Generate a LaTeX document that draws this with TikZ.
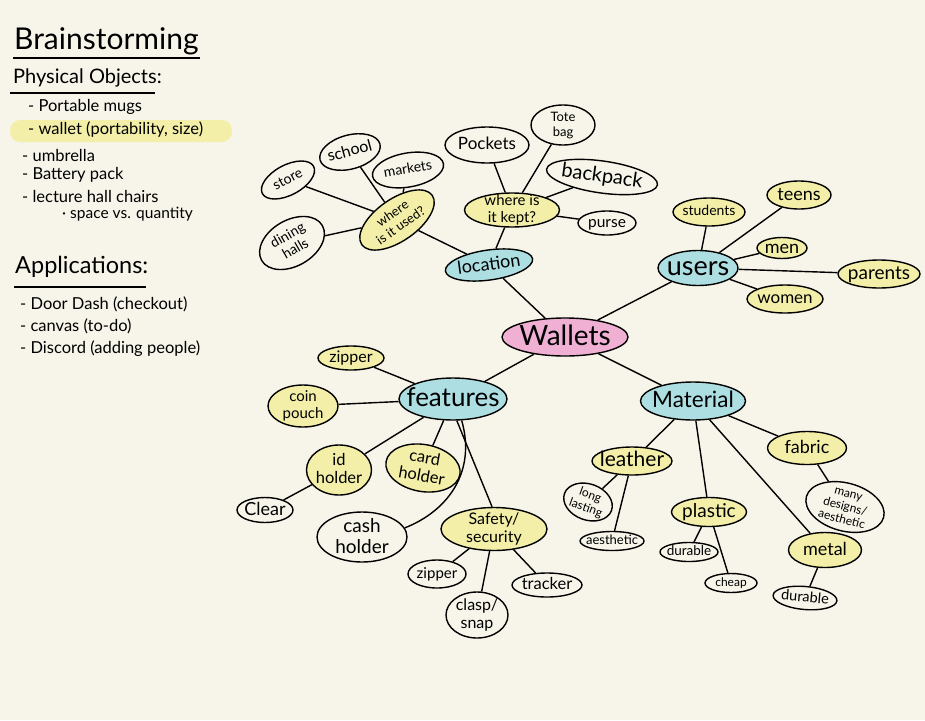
\documentclass[tikz,border=0pt]{standalone}
\usepackage{fontspec}
\setmainfont{Lato}
\usetikzlibrary{shapes.geometric}
\definecolor{paper}{RGB}{247,245,234}
\definecolor{hy}{RGB}{243,239,168}
\definecolor{hb}{RGB}{172,222,226}
\definecolor{hp}{RGB}{240,176,212}
\newcommand{\fs}[1]{\fontsize{#1}{\fpeval{1.12*#1}}\selectfont}
\newcommand{\T}[1]{\raisebox{-0.3em}[0pt][0pt]{\makebox[0pt]{\begin{tabular}{@{}c@{}}#1\end{tabular}}}}
\begin{document}
\begin{tikzpicture}[x=1pt,y=-1pt,
  bub/.style={ellipse,draw,line width=1.4pt,inner sep=0pt,font=\fs{11}},
  sz/.style 2 args={minimum width=#1pt,minimum height=#2pt},
  yel/.style={fill=hy}, blu/.style={fill=hb}, pnk/.style={fill=hp},
  link/.style={line width=1.4pt},
  lst/.style={anchor=west,inner sep=0pt,font=\fs{16.5}},
  uline/.style={line width=1.6pt}]
\fill[paper] (0,0) rectangle (925,720);
\useasboundingbox (0,0) rectangle (925,720);

% ---------- left notes ----------
\node[anchor=west,inner sep=0pt,font=\fs{30}] (t1) at (14,41) {Brainstorming};
\draw[uline] (13,58) -- (200,58);
\node[anchor=west,inner sep=0pt,font=\fs{20}] (t2) at (13,78) {Physical Objects:};
\draw[uline] (10,93) -- (155,93);
\node[lst] (p1) at (28,107) {- Portable mugs};
\fill[hy,rounded corners=10pt] (10,120) rectangle (232,142);
\node[lst] (p2) at (28,130) {- wallet (portability, size)};
\node[lst] (p3) at (22,155) {- umbrella};
\node[lst] (p4) at (22,175) {- Battery pack};
\node[lst] (p5) at (22,196) {- lecture hall chairs};
\node[lst,font=\fs{15.5}] (p6) at (62,214) {· space vs. quantity};
\node[anchor=west,inner sep=0pt,font=\fs{23.5}] (t3) at (15,267) {Applications:};
\draw[uline] (14,287) -- (146,287);
\node[lst] (a1) at (20,304) {- Door Dash (checkout)};
\node[lst] (a2) at (20,326) {- canvas (to-do)};
\node[lst] (a3) at (20,349) {- Discord (adding people)};

% ---------- main nodes ----------
\node[bub,pnk,sz={126}{38},font=\fs{28}] (wal) at (565,337) {\T{Wallets}};
\node[bub,blu,sz={88}{30},rotate=8,font=\fs{18}] (loc) at (489,265) {\T{location}};
\node[bub,blu,sz={80}{35},font=\fs{27}] (usr) at (698,268) {\T{users}};
\node[bub,blu,sz={108}{42},font=\fs{26}] (fea) at (453,399) {\T{features}};
\node[bub,blu,sz={105}{38},font=\fs{22.5}] (mat) at (693,401) {\T{Material}};

% ---------- location subtree ----------
\node[bub,yel,sz={86}{42},rotate=35,font=\fs{13}] (used) at (397,220) {\T{where\\is it used?}};
\node[bub,yel,sz={95}{34},font=\fs{15}] (kept) at (512,210) {\T{where is\\it kept?}};
\node[bub,sz={58}{30},rotate=28,font=\fs{14}] (store) at (288,180) {\T{store}};
\node[bub,sz={62}{34},rotate=15,font=\fs{16}] (school) at (350,152) {\T{school}};
\node[bub,sz={72}{34},rotate=10,font=\fs{14}] (mark) at (408,170) {\T{markets}};
\node[bub,sz={70}{46},rotate=30,font=\fs{14}] (dine) at (292,243) {\T{dining\\halls}};
\node[bub,sz={84}{36},font=\fs{17}] (pock) at (487,145) {\T{Pockets}};
\node[bub,sz={64}{40},font=\fs{13}] (tote) at (563,125) {\T{Tote\\bag}};
\node[bub,sz={112}{32},rotate=-8,font=\fs{20}] (back) at (602,177) {\T{backpack}};
\node[bub,sz={58}{24},font=\fs{15.5}] (purse) at (607,223) {\T{purse}};

% ---------- users subtree ----------
\node[bub,yel,sz={72}{28},font=\fs{14}] (stud) at (709,212) {\T{students}};
\node[bub,yel,sz={64}{28},font=\fs{18}] (teen) at (799,195) {\T{teens}};
\node[bub,yel,sz={50}{21},font=\fs{18}] (men) at (782,248) {\T{men}};
\node[bub,yel,sz={82}{28},font=\fs{19}] (par) at (879,274) {\T{parents}};
\node[bub,yel,sz={76}{28},font=\fs{17}] (wom) at (785,299) {\T{women}};

% ---------- features subtree ----------
\node[bub,yel,sz={66}{24},font=\fs{16}] (zip1) at (351,358) {\T{zipper}};
\node[bub,yel,sz={70}{42},font=\fs{15}] (coin) at (303,406) {\T{coin\\pouch}};
\node[bub,yel,sz={65}{50},font=\fs{16.5}] (idh) at (339,470) {\T{id\\holder}};
\node[bub,yel,sz={75}{47},rotate=-10,font=\fs{16.5}] (card) at (423,468) {\T{card\\holder}};
\node[bub,sz={56}{25},font=\fs{18}] (clear) at (265,510) {\T{Clear}};
\node[bub,sz={90}{50},font=\fs{19}] (cash) at (362,537) {\T{cash\\holder}};
\node[bub,yel,sz={106}{43},font=\fs{16}] (safe) at (494,529) {\T{Safety/\\security}};
\node[bub,sz={58}{28},font=\fs{15}] (zip2) at (437,574) {\T{zipper}};
\node[bub,sz={62}{46},font=\fs{16}] (clasp) at (477,615) {\T{clasp/\\snap}};
\node[bub,sz={70}{24},font=\fs{16.5}] (track) at (547,585) {\T{tracker}};

% ---------- material subtree ----------
\node[bub,yel,sz={80}{28},font=\fs{21}] (leat) at (632,461) {\T{leather}};
\node[bub,sz={50}{36},rotate=-20,font=\fs{12}] (long) at (588,502) {\T{long\\lasting}};
\node[bub,sz={64}{19},font=\fs{13}] (aest) at (612,541) {\T{aesthetic}};
\node[bub,yel,sz={75}{29},font=\fs{19}] (plas) at (709,512) {\T{plastic}};
\node[bub,sz={58}{19},font=\fs{13.5}] (dur1) at (689,552) {\T{durable}};
\node[bub,sz={52}{19},font=\fs{12}] (cheap) at (731,583) {\T{cheap}};
\node[bub,yel,sz={79}{33},font=\fs{18}] (fab) at (807,448) {\T{fabric}};
\node[bub,sz={80}{48},rotate=-15,font=\fs{12}] (many) at (845,507) {\T{many\\designs/\\aesthetic}};
\node[bub,yel,sz={73}{35},font=\fs{18}] (metal) at (825,550) {\T{metal}};
\node[bub,sz={64}{23},rotate=-5,font=\fs{14.5}] (dur2) at (805,598) {\T{durable}};

% ---------- connectors ----------
\draw[link] (loc) -- (wal);
\draw[link] (usr) -- (wal);
\draw[link] (fea) -- (wal);
\draw[link] (mat) -- (wal);
\draw[link] (used) -- (loc);
\draw[link] (kept) -- (loc);
\draw[link] (store) -- (used);
\draw[link] (school) -- (used);
\draw[link] (mark) -- (used);
\draw[link] (dine) -- (used);
\draw[link] (pock) -- (kept);
\draw[link] (tote) -- (kept);
\draw[link] (back) -- (kept);
\draw[link] (purse) -- (kept);
\draw[link] (stud) -- (usr);
\draw[link] (teen) -- (usr);
\draw[link] (men) -- (usr);
\draw[link] (par) -- (usr);
\draw[link] (wom) -- (usr);
\draw[link] (zip1) -- (fea);
\draw[link] (coin) -- (fea);
\draw[link] (idh) -- (fea);
\draw[link] (card) -- (fea);
\draw[link] (clear) -- (idh);
\draw[link] (fea.-68) .. controls (476,470) and (450,510) .. (cash.12);
\draw[link] (fea.-80) -- (safe.95);
\draw[link] (zip2) -- (safe);
\draw[link] (clasp) -- (safe);
\draw[link] (track) -- (safe);
\draw[link] (leat) -- (mat);
\draw[link] (plas) -- (mat);
\draw[link] (fab) -- (mat);
\draw[link] (metal) -- (mat);
\draw[link] (long) -- (leat);
\draw[link] (aest) -- (leat);
\draw[link] (dur1) -- (plas);
\draw[link] (cheap) -- (plas);
\draw[link] (many) -- (fab);
\draw[link] (dur2) -- (metal);
\end{tikzpicture}
\end{document}
